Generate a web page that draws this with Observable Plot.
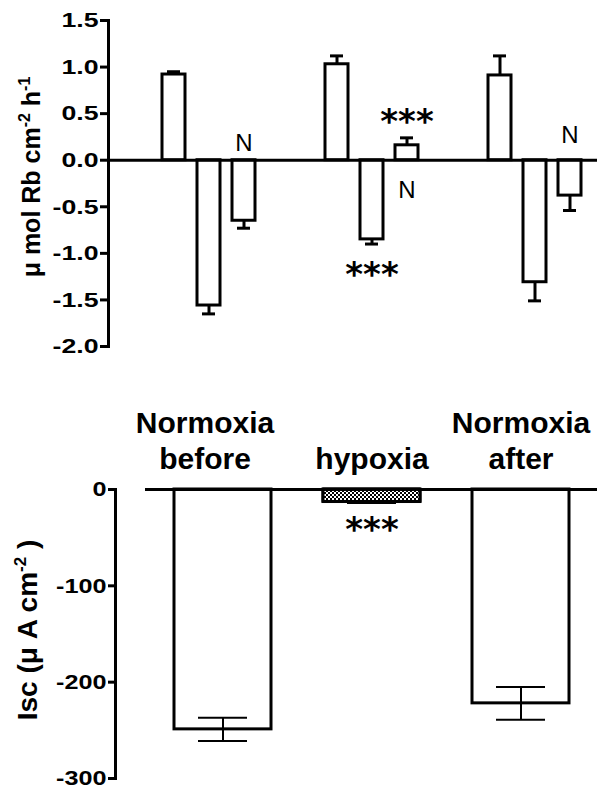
<!DOCTYPE html>
<html><head><meta charset="utf-8">
<script src="https://cdn.jsdelivr.net/npm/d3@7"></script>
<script src="https://cdn.jsdelivr.net/npm/@observablehq/plot@0.6"></script>
<style>
body{margin:0;background:#fff;}
#chart{width:597px;}
#chart svg{display:block;}
</style></head><body><div id="chart"></div>
<script>
// ---- data ----
const groups = ["Normoxia before", "hypoxia", "Normoxia after"];
const fluxes = ["flux 1", "flux 2", "flux 3"];
const rbMean = [0.92, -1.56, -0.65, 1.03, -0.85, 0.16, 0.91, -1.31, -0.38];
const rbSem  = [0.03, 0.09, 0.08, 0.09, 0.05, 0.08, 0.21, 0.20, 0.16];
const rbTicks = [1.5, 1.0, 0.5, 0.0, -0.5, -1.0, -1.5, -2.0];
const noteGroups = ["Normoxia before", "hypoxia", "hypoxia", "hypoxia", "Normoxia after"];
const noteFluxes = ["flux 3", "flux 3", "flux 3", "flux 2", "flux 3"];
const noteTexts  = ["N", "***", "N", "***", "N"];
const noteValues = [0.18, 0.50, -0.32, -1.15, 0.27];
const iscMean = [-249, -13, -222];
const iscSem  = [12, 1, 17];
const iscTicks = [0, -100, -200, -300];
const iscNoteGroups = ["hypoxia"];
const iscNoteTexts = ["***"];
const iscNoteValues = [-34];

// ---- tables ----
const rb = groups.flatMap((g, i) => fluxes.map((f, j) => ({group: g, flux: f, value: rbMean[i * 3 + j], sem: rbSem[i * 3 + j]})));
rb.forEach(d => d.end = d.value + Math.sign(d.value) * d.sem);
const notes = noteTexts.map((t, i) => ({group: noteGroups[i], flux: noteFluxes[i], text: t, value: noteValues[i]}));
const isc = groups.map((g, i) => ({cat: g, value: iscMean[i], sem: iscSem[i]}));
const iscNotes = iscNoteTexts.map((t, i) => ({cat: iscNoteGroups[i], text: t, value: iscNoteValues[i]}));

const font = "'Liberation Sans', Arial, sans-serif";
const stretch = (svg, sel, k) => {
  svg.querySelectorAll(sel).forEach(t => {
    const tr = t.getAttribute("transform");
    if (tr && tr.includes("translate")) t.setAttribute("transform", tr + ` scale(${k},1)`);
    else {
      const x = +t.getAttribute("x") || 0;
      t.setAttribute("transform", `translate(${x},0) scale(${k},1) translate(${-x},0)` + (tr ? " " + tr : ""));
    }
  });
};

// ---- top panel ----
const topSvg = Plot.plot({
  width: 597, height: 360,
  marginTop: 20, marginBottom: 14, marginLeft: 107, marginRight: 0,
  style: {fontFamily: font, color: "#000", background: "#fff", overflow: "visible"},
  fx: {domain: groups, padding: 0, axis: null, label: null},
  x: {domain: fluxes, paddingInner: 0.352, paddingOuter: 0.976, align: 0.772, axis: null},
  y: {domain: [-2, 1.5]},
  marks: [
    Plot.barY(rb, {fx: "group", x: "flux", y: "value", fill: "white", stroke: "black", strokeWidth: 3}),
    Plot.ruleX(rb, {fx: "group", x: "flux", y1: "value", y2: "end", stroke: "black", strokeWidth: 3}),
    Plot.tickY(rb, {fx: "group", x: "flux", y: "end", stroke: "black", strokeWidth: 3, insetLeft: 5, insetRight: 5}),
    Plot.ruleY([0], {stroke: "black", strokeWidth: 3}),
    Plot.axisY({ticks: rbTicks, tickFormat: d => d.toFixed(1), tickSize: 8, tickPadding: 2, strokeWidth: 3, fontSize: 21, fontWeight: "bold", label: null}),
    Plot.frame({anchor: "left", facetAnchor: "left", stroke: "black", strokeWidth: 3}),
    Plot.text(notes.filter(d => d.text === "N"), {fx: "group", x: "flux", y: "value", text: "text", fontSize: 24, fill: "black"}),
    Plot.text(notes.filter(d => d.text !== "N"), {fx: "group", x: "flux", y: "value", text: "text", fontSize: 34, fontFamily: "DejaVu Sans", fontWeight: "bold", dy: 8, fill: "black"})
  ]
});
stretch(topSvg, 'g[aria-label="y-axis tick label"] text', 1.27);
d3.select(topSvg).append("text")
  .attr("transform", "translate(40,177) rotate(-90)")
  .attr("text-anchor", "middle").attr("font-size", 25).attr("font-weight", "bold")
  .attr("font-family", font).attr("fill", "black")
  .call(t => {
    t.append("tspan").text("\u03bc mol Rb cm");
    t.append("tspan").attr("dy", -10).attr("font-size", 16).text("-2");
    t.append("tspan").attr("dy", 10).text(" h");
    t.append("tspan").attr("dy", -10).attr("font-size", 16).text("-1");
  });

// ---- bottom panel ----
const botSvg = Plot.plot({
  width: 597, height: 428,
  marginTop: 129, marginBottom: 10, marginLeft: 115, marginRight: 0,
  style: {fontFamily: font, color: "#000", background: "#fff", overflow: "visible"},
  x: {domain: groups, paddingInner: 0.35, paddingOuter: 0.29, align: 0.676, axis: null},
  y: {domain: [-300, 0]},
  marks: [
    Plot.barY(isc, {x: "cat", y: "value", fill: "white", stroke: "black", strokeWidth: 3}),
    Plot.barY(isc, {filter: d => d.cat === "hypoxia", x: "cat", y: "value", fill: "url(#checker)", stroke: "black", strokeWidth: 3, strokeLinejoin: "round"}),
    Plot.ruleX(isc, {x: "cat", y1: d => d.value - d.sem, y2: d => d.value + d.sem, stroke: "black", strokeWidth: 2}),
    Plot.tickY(isc, {x: "cat", y: d => d.value - d.sem, stroke: "black", strokeWidth: 2, insetLeft: 24, insetRight: 24}),
    Plot.tickY(isc, {x: "cat", y: d => d.value + d.sem, stroke: "black", strokeWidth: 2, insetLeft: 24, insetRight: 24}),
    Plot.ruleY([0], {stroke: "black", strokeWidth: 3, insetLeft: 30}),
    Plot.axisY({ticks: iscTicks, tickFormat: d => String(d), tickSize: 7, tickPadding: 2, strokeWidth: 3, fontSize: 21, fontWeight: "bold", label: null}),
    Plot.frame({anchor: "left", stroke: "black", strokeWidth: 3}),
    Plot.text(groups.slice(0, 1), {x: d => d, text: d => d.replace(" ", "\n"), frameAnchor: "top", lineAnchor: "bottom", dy: -21, dx: -18, fontSize: 30, fontWeight: "bold", lineHeight: 1.17, fill: "black"}),
    Plot.text(groups.slice(1), {x: d => d, text: d => d.replace(" ", "\n"), frameAnchor: "top", lineAnchor: "bottom", dy: -21, fontSize: 30, fontWeight: "bold", lineHeight: 1.17, fill: "black"}),
    Plot.text(iscNotes, {x: "cat", y: "value", text: "text", fontSize: 34, fontFamily: "DejaVu Sans", fontWeight: "bold", dy: 8, fill: "black"})
  ]
});
stretch(botSvg, 'g[aria-label="y-axis tick label"] text', 1.2);
{
  const defs = d3.select(botSvg).insert("defs", ":first-child");
  const p = defs.append("pattern").attr("id", "checker").attr("width", 4).attr("height", 4).attr("patternUnits", "userSpaceOnUse");
  p.append("rect").attr("width", 4).attr("height", 4).attr("fill", "white");
  p.append("rect").attr("width", 2).attr("height", 2).attr("fill", "black");
  p.append("rect").attr("x", 2).attr("y", 2).attr("width", 2).attr("height", 2).attr("fill", "black");
}
d3.select(botSvg).append("text")
  .attr("transform", "translate(37,270) rotate(-90)")
  .attr("text-anchor", "middle").attr("font-size", 28).attr("font-weight", "bold")
  .attr("font-family", font).attr("fill", "black")
  .call(t => {
    t.append("tspan").text("Isc (\u03bc A cm");
    t.append("tspan").attr("dy", -11).attr("font-size", 17).text("-2");
    t.append("tspan").attr("dy", 11).text(" )");
  });

document.getElementById("chart").append(topSvg, botSvg);
</script></body></html>
